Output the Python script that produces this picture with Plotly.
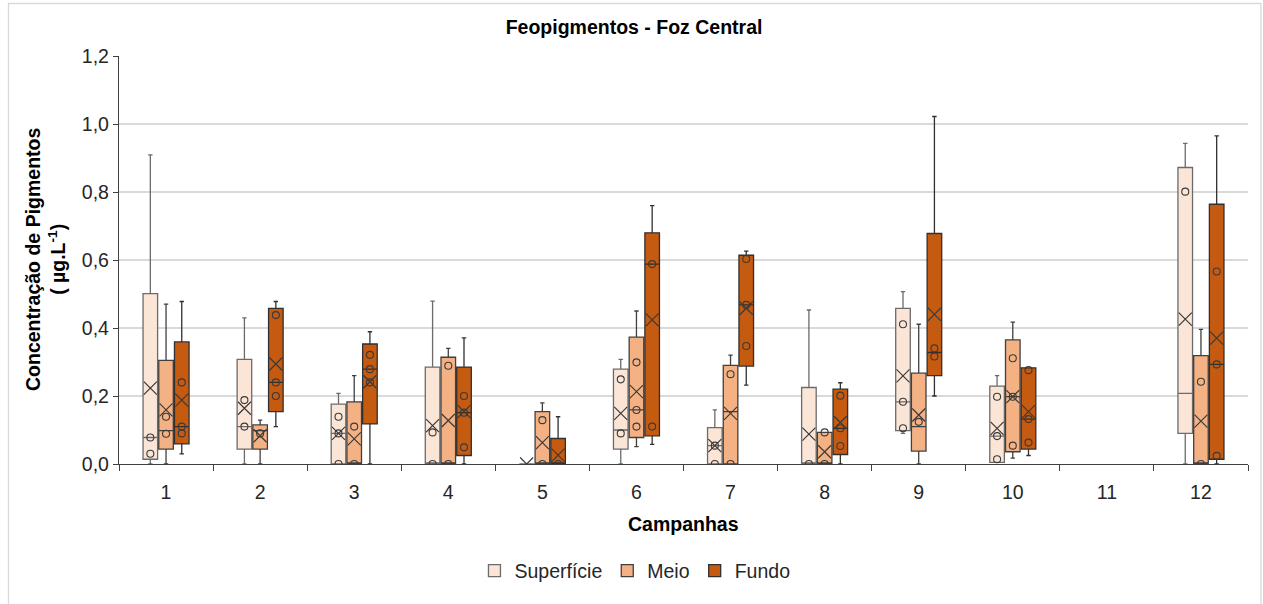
import plotly.graph_objects as go

# Campaigns (category axis) and sampling depths
campanhas = [str(i) for i in range(1, 13)]
profundidades = ["Superfície", "Meio", "Fundo"]

# Box statistics per depth; None = no sampling in that campaign
sup_lower = [0.0, 0.0, 0.0, 0.0, 0.0, 0.0, 0.0, 0.0, 0.090, 0.005, None, 0.0]
sup_q1 = [0.014, 0.044, 0.0, 0.0, 0.0, 0.044, 0.0, 0.0, 0.098, 0.005, None, 0.090]
sup_median = [0.078, 0.110, 0.090, 0.0, 0.0, 0.100, 0.054, 0.0, 0.183, 0.082, None, 0.208]
sup_q3 = [0.501, 0.308, 0.176, 0.285, 0.0, 0.279, 0.107, 0.225, 0.458, 0.229, None, 0.872]
sup_upper = [0.909, 0.430, 0.208, 0.479, 0.0, 0.308, 0.159, 0.453, 0.507, 0.260, None, 0.943]
sup_mean = [0.223, 0.164, 0.090, 0.113, 0.0, 0.149, 0.054, 0.088, 0.259, 0.105, None, 0.426]
sup_points = [[0.078, 0.030], [0.188, 0.110], [0.139, 0.090, 0.0], [0.093, 0.0], [],
              [0.249, 0.090], [0.054, 0.0], [0.0], [0.411, 0.183, 0.105],
              [0.198, 0.082, 0.014], [], [0.801]]

meio_lower = [0.0, 0.0, 0.0, 0.0, 0.0, 0.051, 0.0, 0.0, 0.0, 0.017, None, 0.0]
meio_q1 = [0.044, 0.044, 0.0, 0.0, 0.0, 0.078, 0.0, 0.0, 0.038, 0.036, None, 0.0]
meio_median = [0.098, 0.098, 0.0, 0.0, 0.0, 0.159, 0.154, 0.0, 0.110, 0.198, None, 0.0]
meio_q3 = [0.305, 0.115, 0.183, 0.314, 0.154, 0.373, 0.290, 0.093, 0.267, 0.365, None, 0.319]
meio_upper = [0.470, 0.129, 0.260, 0.340, 0.180, 0.450, 0.320, 0.093, 0.411, 0.417, None, 0.396]
meio_mean = [0.159, 0.083, 0.074, 0.128, 0.063, 0.213, 0.149, 0.036, 0.144, 0.198, None, 0.126]
meio_points = [[0.139, 0.089], [0.090], [0.110, 0.0], [0.289, 0.0], [0.129, 0.0],
               [0.299, 0.159, 0.110], [0.264, 0.0], [0.093, 0.0], [0.124],
               [0.311, 0.198, 0.054], [], [0.242, 0.0]]

fundo_lower = [0.030, 0.110, 0.0, 0.0, 0.0, 0.058, 0.232, 0.0, 0.200, 0.025, None, 0.0]
fundo_q1 = [0.059, 0.154, 0.118, 0.025, 0.0, 0.083, 0.288, 0.028, 0.260, 0.044, None, 0.014]
fundo_median = [0.110, 0.240, 0.279, 0.151, 0.0, 0.588, 0.468, 0.105, 0.328, 0.132, None, 0.293]
fundo_q3 = [0.359, 0.458, 0.353, 0.285, 0.075, 0.680, 0.614, 0.220, 0.678, 0.283, None, 0.764]
fundo_upper = [0.478, 0.478, 0.389, 0.371, 0.139, 0.760, 0.626, 0.239, 1.022, 0.283, None, 0.965]
fundo_mean = [0.188, 0.294, 0.242, 0.154, 0.026, 0.424, 0.458, 0.122, 0.440, 0.154, None, 0.370]
fundo_points = [[0.240, 0.110, 0.090], [0.438, 0.240, 0.200], [0.321, 0.279, 0.240],
                [0.200, 0.151, 0.049], [0.0], [0.588, 0.110], [0.603, 0.468, 0.347],
                [0.201, 0.105, 0.053], [0.340, 0.316], [0.276, 0.132, 0.063], [],
                [0.566, 0.293, 0.024]]

yticks = [0.0, 0.2, 0.4, 0.6, 0.8, 1.0, 1.2]

series = [
    dict(name="Superfície", fill="#FBE5D6", line="#6b6b6b",
         lower=sup_lower, q1=sup_q1, median=sup_median, q3=sup_q3,
         upper=sup_upper, mean=sup_mean, points=sup_points),
    dict(name="Meio", fill="#F4B183", line="#404040",
         lower=meio_lower, q1=meio_q1, median=meio_median, q3=meio_q3,
         upper=meio_upper, mean=meio_mean, points=meio_points),
    dict(name="Fundo", fill="#C55A11", line="#303030",
         lower=fundo_lower, q1=fundo_q1, median=fundo_median, q3=fundo_q3,
         upper=fundo_upper, mean=fundo_mean, points=fundo_points),
]

# Horizontal layout within each campaign slot
offsets = [-0.167, 0.0, 0.167]
box_width = 0.155

fig = go.Figure()

for s, off in zip(series, offsets):
    idx = [i for i, v in enumerate(s["q1"]) if v is not None]
    xs = [int(campanhas[i]) + off for i in idx]
    fig.add_trace(go.Box(
        name=s["name"],
        x=xs,
        q1=[s["q1"][i] for i in idx],
        median=[s["median"][i] for i in idx],
        q3=[s["q3"][i] for i in idx],
        lowerfence=[s["lower"][i] for i in idx],
        upperfence=[s["upper"][i] for i in idx],
        width=box_width,
        whiskerwidth=0.3,
        fillcolor=s["fill"],
        line=dict(color=s["line"], width=1.3),
        boxpoints=False,
        hoverinfo="skip",
        showlegend=True,
    ))
    # inner data points
    px, py = [], []
    for i, pts in enumerate(s["points"]):
        for p in pts:
            px.append(int(campanhas[i]) + off)
            py.append(p)
    fig.add_trace(go.Scatter(
        x=px, y=py, mode="markers", showlegend=False, hoverinfo="skip",
        marker=dict(symbol="circle-open", size=7,
                    line=dict(color="#3a3a3a", width=1.1), color="#3a3a3a"),
    ))
    # mean markers
    fig.add_trace(go.Scatter(
        x=xs, y=[s["mean"][i] for i in idx], mode="markers",
        showlegend=False, hoverinfo="skip",
        marker=dict(symbol="x-thin-open", size=13,
                    line=dict(color="#3a3a3a", width=1.2), color="#3a3a3a"),
    ))

font_family = "Liberation Sans, Arial, sans-serif"
fs = 19.5

fig.update_layout(
    width=1263, height=604,
    margin=dict(l=119, r=15, t=56, b=140),
    paper_bgcolor="white", plot_bgcolor="white",
    separators=",.",
    font=dict(family=font_family, size=fs, color="#262626"),
    showlegend=True,
    legend=dict(orientation="h", x=0.457, xanchor="center", y=-0.262,
                yanchor="middle", font=dict(size=fs, color="#262626"),
                itemwidth=30, tracegroupgap=0),
    title=dict(text="<b>Feopigmentos - Foz Central</b>", x=0.502, xanchor="center",
               y=1 - 27 / 604, yanchor="middle",
               font=dict(size=fs, color="#000000", family=font_family)),
)

fig.update_xaxes(
    range=[0.5, 12.5],
    tickmode="array", tickvals=list(range(1, 13)), ticktext=campanhas,
    ticks="", showgrid=False, zeroline=False, ticklabelstandoff=10,
    showline=True, linecolor="#404040", linewidth=1.3,
    tickfont=dict(size=fs, color="#262626"),
    minor=dict(tick0=0.5, dtick=1, ticks="outside", ticklen=6,
               tickcolor="#404040", tickwidth=1.3, showgrid=False),
)

fig.update_yaxes(
    range=[0, 1.2],
    tickmode="array", tickvals=yticks, tickformat=".1f",
    ticks="outside", ticklen=5, tickcolor="#404040", tickwidth=1.3,
    showline=True, linecolor="#404040", linewidth=1.3,
    showgrid=True, gridcolor="#d9d9d9", gridwidth=1.5,
    zeroline=False,
    tickfont=dict(size=fs, color="#262626"),
)

# Axis titles
fig.add_annotation(text="<b>Campanhas</b>", xref="paper", yref="paper",
                   x=0.5, y=(464 - 524) / 408, xanchor="center", yanchor="middle",
                   showarrow=False, font=dict(size=fs, color="#000000"))
fig.add_annotation(text="<b>Concentração de Pigmentos<br>( µg.L<sup>-1</sup>)</b>",
                   xref="paper", yref="paper", x=(45 - 119) / 1129, y=0.5,
                   xanchor="center", yanchor="middle", textangle=-90,
                   showarrow=False, font=dict(size=fs, color="#000000"))

# Chart-area frame
fig.add_shape(type="rect", xref="paper", yref="paper",
              x0=(8.5 - 119) / 1129, x1=(1261 - 119) / 1129,
              y0=(464 - 612) / 408, y1=(464 - 3.5) / 408,
              line=dict(color="#d9d9d9", width=1.3), fillcolor="rgba(0,0,0,0)",
              layer="below")

fig.write_html("out.html")
